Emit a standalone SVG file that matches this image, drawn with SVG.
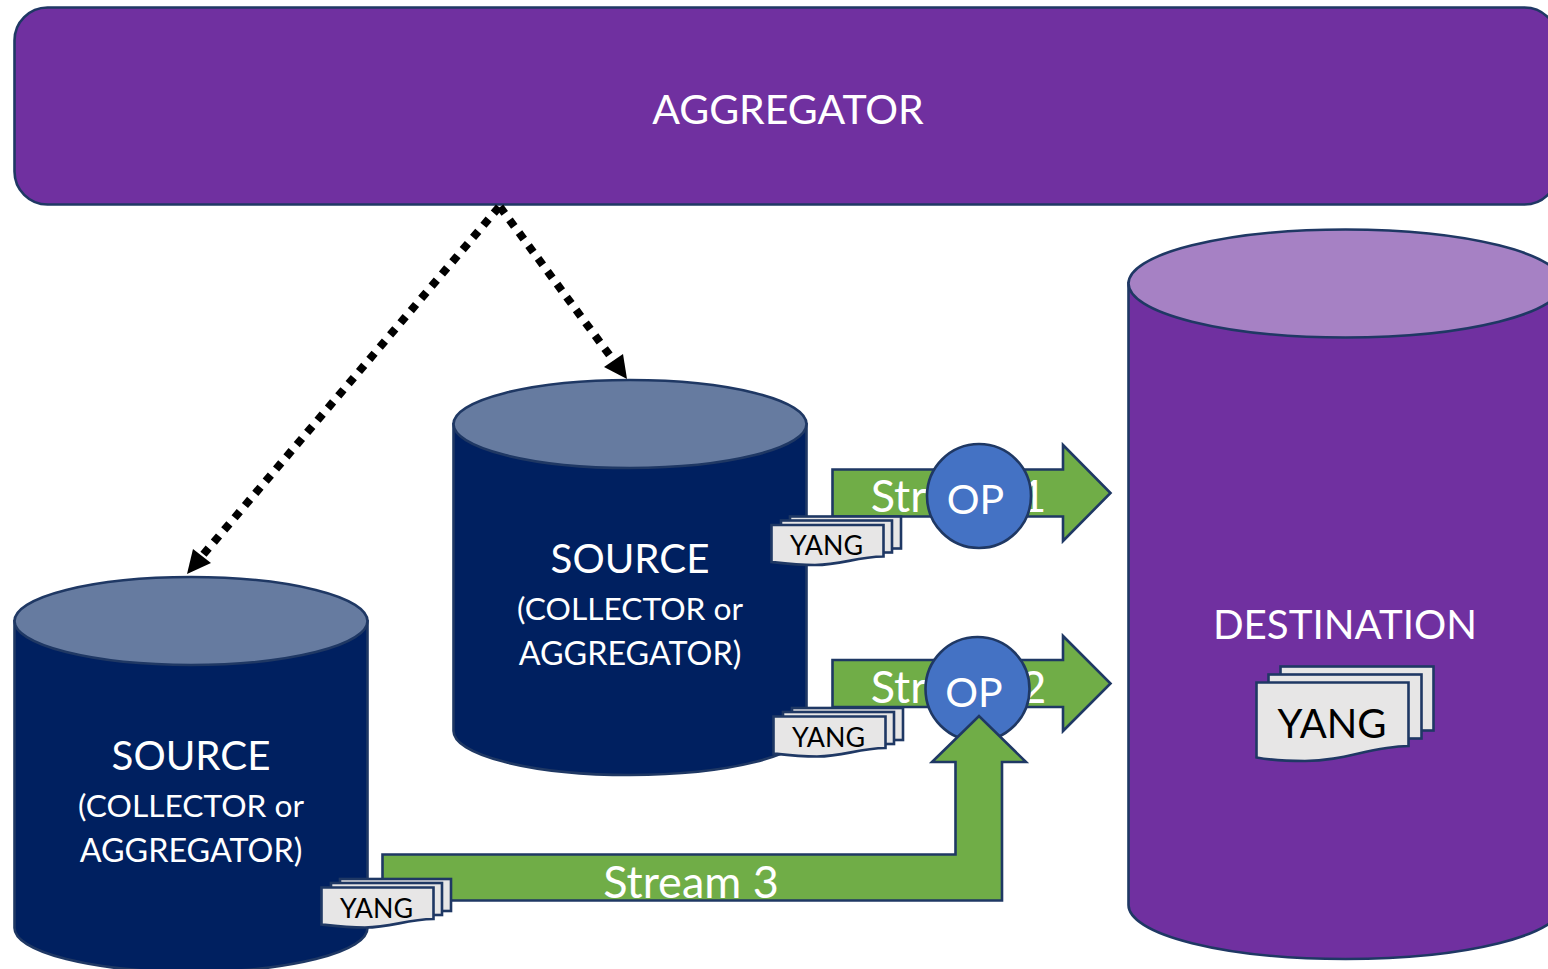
<svg xmlns="http://www.w3.org/2000/svg" xmlns:xlink="http://www.w3.org/1999/xlink" width="1548" height="969" viewBox="0 0 1548 969">
<style>
text{font-family:"Lato","Liberation Sans",sans-serif;text-anchor:middle;fill:#fff}
.o{stroke:#1f3864;stroke-width:2.6}
.navy{fill:#002060}.navyTop{fill:#667ba0}
.purple{fill:#7030a0}.purpleTop{fill:#a681c4}
.green{fill:#70ad47}.blue{fill:#4472c4}.page{fill:#e7e6e6}
.big{font-size:41px}.head{font-size:40.300px}.stream{font-size:45px}.mid{font-size:31.700px}.mid2{font-size:32.300px}.yang{fill:#000;font-size:26.800px}.yangB{fill:#000;font-size:40px}
.dot{fill:none;stroke:#000;stroke-width:8;stroke-dasharray:8 8}
</style>
<defs>
<g id="yangSmall">
<rect class="o page" x="790" y="516.500" width="111" height="32"/>
<rect class="o page" x="781" y="520.500" width="111" height="32"/>
<path class="o page" d="M771.500 525H883.500V556.500C855 557 842 565 815 565C798 565 785 563.500 771.500 562Z"/>
<text class="yang" x="826.500" y="555">YANG</text>
</g>
</defs>
<g id="aggregator">
<rect class="o purple" x="14.500" y="7.500" width="1543" height="197" rx="33"/>
<text class="big" x="788" y="124">AGGREGATOR</text>
</g>
<g id="source-1">
<path class="o navy" d="M14.500 621V928A176.500 44 0 0 0 367.500 928V621Z"/>
<ellipse class="o navyTop" cx="191" cy="621" rx="176.500" ry="44"/>
<text class="head" x="191" y="770">SOURCE</text>
<text class="mid" x="191" y="817">(COLLECTOR or</text>
<text class="mid2" x="191" y="862">AGGREGATOR)</text>
</g>
<g id="source-2">
<path class="o navy" d="M453.500 424V731A176.500 44 0 0 0 806.500 731V424Z"/>
<ellipse class="o navyTop" cx="630" cy="424" rx="176.500" ry="44"/>
<text class="head" x="630" y="573">SOURCE</text>
<text class="mid" x="630" y="620">(COLLECTOR or</text>
<text class="mid2" x="630" y="665">AGGREGATOR)</text>
</g>
<g id="destination">
<path class="o purple" d="M1128.500 283V905A217 54 0 0 0 1562.500 905V283Z"/>
<ellipse class="o purpleTop" cx="1345.500" cy="283.500" rx="217" ry="54"/>
<text class="head" x="1345" y="639">DESTINATION</text>
</g>
<g id="yang-destination">
<rect class="o page" x="1280.500" y="666.500" width="153" height="64"/>
<rect class="o page" x="1268.500" y="674.500" width="153" height="64"/>
<path class="o page" d="M1256.500 682.500H1408.500V746C1370 746.500 1345 761 1305 761C1285 761 1270 760 1256.500 757.500Z"/>
<text class="yangB" x="1332" y="738">YANG</text>
</g>
<g id="connectors">
<path class="dot" d="M500 207L613.500 360.500"/>
<polygon points="623,354 604,367 627,379"/>
<path class="dot" d="M499 207L202 556"/>
<polygon points="193,549 211,563 187,574"/>
</g>
<g id="stream-1">
<path class="o green" d="M832.500 469.500H1063V445L1110.500 493L1063 541V516.500H832.500Z"/>
<text class="stream" x="958.500" y="512">Stream 1</text>
</g>
<g id="stream-2">
<path class="o green" d="M832.500 660H1063V636L1110.500 683.500L1063 731V707H832.500Z"/>
<text class="stream" x="958.500" y="703">Stream 2</text>
</g>
<use id="yang-source-2a" xlink:href="#yangSmall" href="#yangSmall"/>
<use id="yang-source-2b" xlink:href="#yangSmall" href="#yangSmall" transform="translate(2 191.500)"/>
<g id="op-1">
<circle class="o blue" cx="979" cy="496" r="52"/>
<text class="big" x="975.500" y="514">OP</text>
</g>
<g id="op-2">
<circle class="o blue" cx="977.500" cy="689" r="52"/>
<text class="big" x="974" y="707">OP</text>
</g>
<g id="stream-3">
<path class="o green" d="M382.500 854.500H955.500V762H932L979 716L1026 762H1002V900.500H382.500Z"/>
<text class="stream" x="691" y="897.500">Stream 3</text>
</g>
<use id="yang-source-1" xlink:href="#yangSmall" href="#yangSmall" transform="translate(-450 362.500)"/>
</svg>
